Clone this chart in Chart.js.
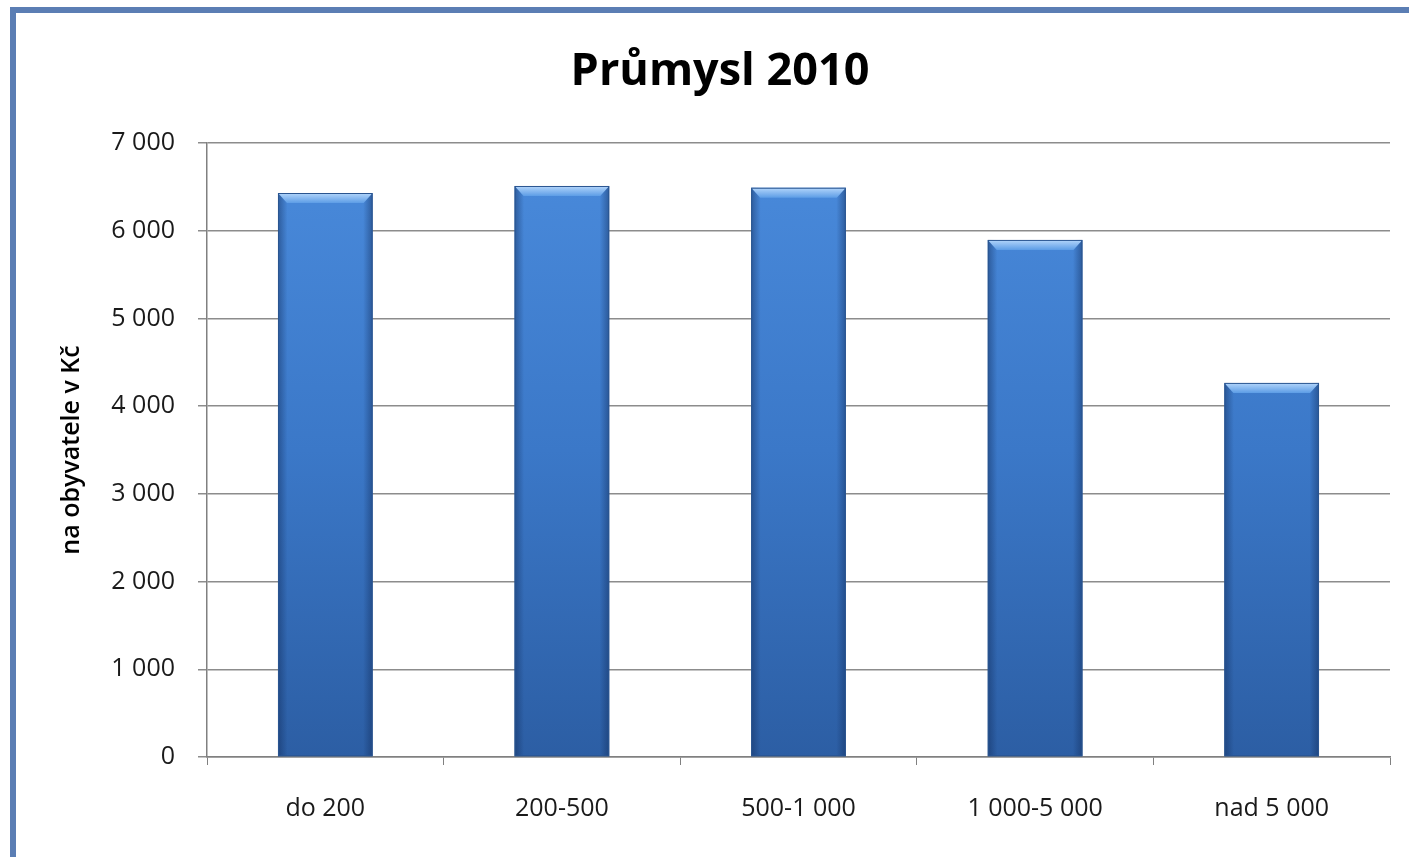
<!DOCTYPE html>
<html>
<head>
<meta charset="utf-8">
<script src="https://cdn.jsdelivr.net/npm/chart.js@4/dist/chart.umd.min.js"></script>
<style>
  html, body { margin: 0; padding: 0; background: #ffffff; }
  #wrap { position: absolute; left: 0; top: 0; width: 1409px; height: 857px; }
  #frame {
    position: absolute; left: 10px; top: 7px; width: 1409px; height: 844px;
    border-left: 6px solid #5b7eb4; border-top: 6px solid #5b7eb4;
    border-bottom: 3px solid #d6ebf8; pointer-events: none;
  }
</style>
</head>
<body>
<div id="wrap">
  <canvas id="graf"></canvas>
  <div id="frame"></div>
</div>
<script>
// data
const kategorie = ['do 200', '200-500', '500-1 000', '1 000-5 000', 'nad 5 000'];
const hodnoty = [6430, 6510, 6490, 5895, 4265];
const yTicks = [0, 1000, 2000, 3000, 4000, 5000, 6000, 7000];

const fmt = (v) => String(v).replace(/\B(?=(\d{3})+(?!\d))/g, ' ');

// svisly prechod barvy sloupcu
const barFill = (c) => {
  const ca = c.chart.chartArea;
  if (!ca) return '#3a75c4';
  const g = c.chart.ctx.createLinearGradient(0, ca.top, 0, ca.bottom);
  g.addColorStop(0, '#4a8bdc');
  g.addColorStop(0.5, '#3b78c8');
  g.addColorStop(1, '#2c5ea4');
  return g;
};

// stinovani okraju a zkosena horni hrana
const bevel = {
  id: 'bevel',
  afterDatasetsDraw(chart) {
    const ctx = chart.ctx;
    chart.getDatasetMeta(0).data.forEach(bar => {
      const p = bar.getProps(['x', 'y', 'base', 'width'], true);
      const left = p.x - p.width / 2, right = p.x + p.width / 2;
      ctx.save();
      const h = ctx.createLinearGradient(left, 0, right, 0);
      h.addColorStop(0, 'rgba(15,40,85,0.45)');
      h.addColorStop(0.1, 'rgba(15,40,85,0)');
      h.addColorStop(0.9, 'rgba(15,40,85,0)');
      h.addColorStop(1, 'rgba(15,40,85,0.45)');
      ctx.fillStyle = h;
      ctx.fillRect(left, p.y, p.width, p.base - p.y);
      const t = ctx.createLinearGradient(0, p.y, 0, p.y + 10);
      t.addColorStop(0, '#b4d6fb');
      t.addColorStop(1, '#5d9de6');
      ctx.fillStyle = t;
      ctx.beginPath();
      ctx.moveTo(left, p.y);
      ctx.lineTo(right, p.y);
      ctx.lineTo(right - 9, p.y + 10);
      ctx.lineTo(left + 9, p.y + 10);
      ctx.closePath();
      ctx.fill();
      ctx.strokeStyle = '#2a5590';
      ctx.lineWidth = 1;
      ctx.strokeRect(left + 0.5, p.y + 0.5, p.width - 1, p.base - p.y - 1);
      ctx.restore();
    });
  }
};

const font = 'Open Sans';

new Chart(document.getElementById('graf').getContext('2d'), {
  type: 'bar',
  data: {
    labels: kategorie,
    datasets: [{
      label: 'Průmysl 2010',
      data: hodnoty,
      backgroundColor: barFill,
      borderWidth: 0,
      barPercentage: 0.4,
      categoryPercentage: 1
    }]
  },
  options: {
    responsive: true,
    maintainAspectRatio: false,
    animation: false,
    layout: { padding: { top: 45, right: 19, bottom: 0, left: 50 } },
    plugins: {
      legend: { display: false },
      tooltip: { enabled: false },
      title: {
        display: true,
        text: 'Průmysl 2010',
        color: '#000000',
        font: { family: font, size: 45, weight: 'bold', lineHeight: 1.2 },
        padding: { top: 0, bottom: 44 }
      }
    },
    scales: {
      x: {
        offset: true,
        grid: { display: true, drawOnChartArea: false, drawTicks: true, tickLength: 8, color: '#808080', offset: true },
        border: { color: '#808080', width: 1.5 },
        ticks: { color: '#1a1a1a', font: { family: font, size: 25 }, padding: 29 },
        afterFit: (s) => { s.height = 100; }
      },
      y: {
        min: 0,
        max: 7000,
        afterBuildTicks: (s) => { s.ticks = yTicks.map(v => ({ value: v })); },
        afterFit: (s) => { s.width = 157; },
        grid: { color: '#8c8c8c', lineWidth: 1.5, tickLength: 9 },
        border: { color: '#808080', width: 1.5 },
        ticks: { color: '#1a1a1a', font: { family: font, size: 25 }, padding: 23, callback: (v) => fmt(v) },
        title: {
          display: true,
          text: 'na obyvatele v Kč',
          color: '#000000',
          font: { family: font, size: 25, weight: '600' },
          padding: { top: 7, bottom: 0 }
        }
      }
    }
  },
  plugins: [bevel]
});
</script>
</body>
</html>
